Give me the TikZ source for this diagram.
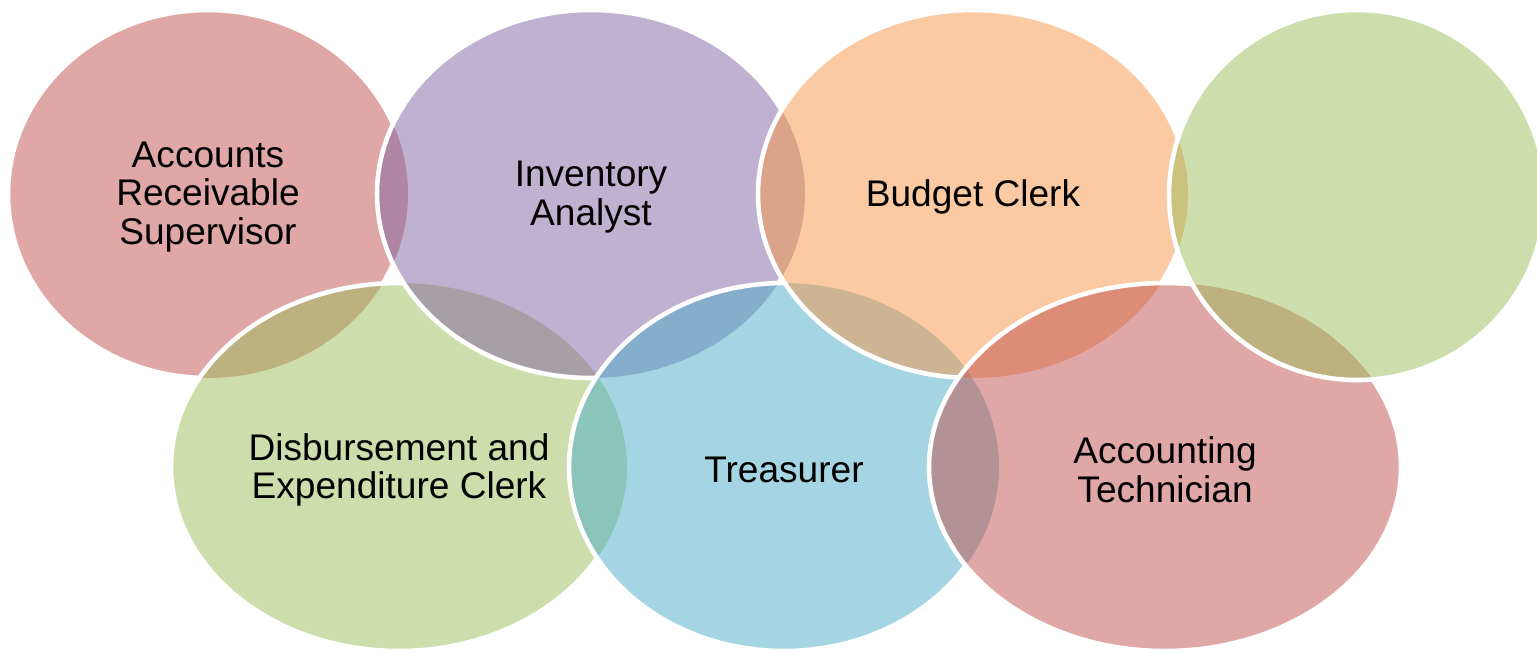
\documentclass[tikz,border=0pt]{standalone}
\usepackage{fontspec}
\setmainfont{Liberation Sans}
\usepackage{xcolor}

\definecolor{ringred}{HTML}{C0504D}
\definecolor{ringpurple}{HTML}{8064A2}
\definecolor{ringorange}{HTML}{F79646}
\definecolor{ringgreen}{HTML}{9BBB59}
\definecolor{ringblue}{HTML}{4BACC6}

\tikzset{
  ringfill/.style={fill=#1, fill opacity=0.5},
  ringedge/.style={draw=white, line width=1.3pt},
  ringtext/.style={align=center, text=black, yshift=-0.03cm, font=\fontsize{10.55}{11}\selectfont},
}

% ring outlines
\newcommand{\ringA}{(rec) ellipse [x radius=2.00, y radius=1.84]}
\newcommand{\ringB}{(inv) ellipse [x radius=2.14, y radius=1.84]}
\newcommand{\ringC}{(bud) ellipse [x radius=2.15, y radius=1.84]}
\newcommand{\ringD}{(spare) ellipse [x radius=1.88, y radius=1.85]}
\newcommand{\ringE}{(dis) ellipse [x radius=2.28, y radius=1.84]}
\newcommand{\ringF}{(tre) ellipse [x radius=2.15, y radius=1.84]}
\newcommand{\ringG}{(tech) ellipse [x radius=2.36, y radius=1.84]}
\newcommand{\wideframe}{(-1,1) rectangle (17,-8)}

\begin{document}
\begin{tikzpicture}
  \clip (0,0) rectangle (15.37,-6.52);
  \coordinate (rec) at (2.08,-1.94);
  \coordinate (inv) at (5.91,-1.94);
  \coordinate (bud) at (9.73,-1.94);
  \coordinate (spare) at (13.57,-1.95);
  \coordinate (dis) at (3.99,-4.67);
  \coordinate (tre) at (7.84,-4.67);
  \coordinate (tech) at (11.65,-4.67);

  % fills, back to front
  \fill[ringfill=ringred] \ringA;
  \fill[ringfill=ringgreen] \ringE;
  \fill[ringfill=ringpurple] \ringB;
  \fill[ringfill=ringblue] \ringF;
  \fill[ringfill=ringorange] \ringC;
  \fill[ringfill=ringred] \ringG;
  \fill[ringfill=ringgreen] \ringD;

  % white edges, each one hidden under the rings laid after it
  \begin{scope}[even odd rule]
    \clip \wideframe \ringE;
    \clip \wideframe \ringB;
    \clip \wideframe \ringF;
    \clip \wideframe \ringC;
    \clip \wideframe \ringG;
    \clip \wideframe \ringD;
    \draw[ringedge] \ringA;
  \end{scope}
  \begin{scope}[even odd rule]
    \clip \wideframe \ringB;
    \clip \wideframe \ringF;
    \clip \wideframe \ringC;
    \clip \wideframe \ringG;
    \clip \wideframe \ringD;
    \draw[ringedge] \ringE;
  \end{scope}
  \begin{scope}[even odd rule]
    \clip \wideframe \ringF;
    \clip \wideframe \ringC;
    \clip \wideframe \ringG;
    \clip \wideframe \ringD;
    \draw[ringedge] \ringB;
  \end{scope}
  \begin{scope}[even odd rule]
    \clip \wideframe \ringC;
    \clip \wideframe \ringG;
    \clip \wideframe \ringD;
    \draw[ringedge] \ringF;
  \end{scope}
  \begin{scope}[even odd rule]
    \clip \wideframe \ringG;
    \clip \wideframe \ringD;
    \draw[ringedge] \ringC;
  \end{scope}
  \begin{scope}[even odd rule]
    \clip \wideframe \ringD;
    \draw[ringedge] \ringG;
  \end{scope}
  \draw[ringedge] \ringD;

  % labels
  \node[ringtext] (reclabel) at (rec) {Accounts\\Receivable\\Supervisor};
  \node[ringtext] (invlabel) at (inv) {Inventory\\Analyst};
  \node[ringtext] (budlabel) at (bud) {Budget Clerk};
  \node[ringtext] (dislabel) at (dis) {Disbursement and\\Expenditure Clerk};
  \node[ringtext] (trelabel) at (tre) {Treasurer};
  \node[ringtext] (techlabel) at (tech) {Accounting\\Technician};
\end{tikzpicture}
\end{document}
